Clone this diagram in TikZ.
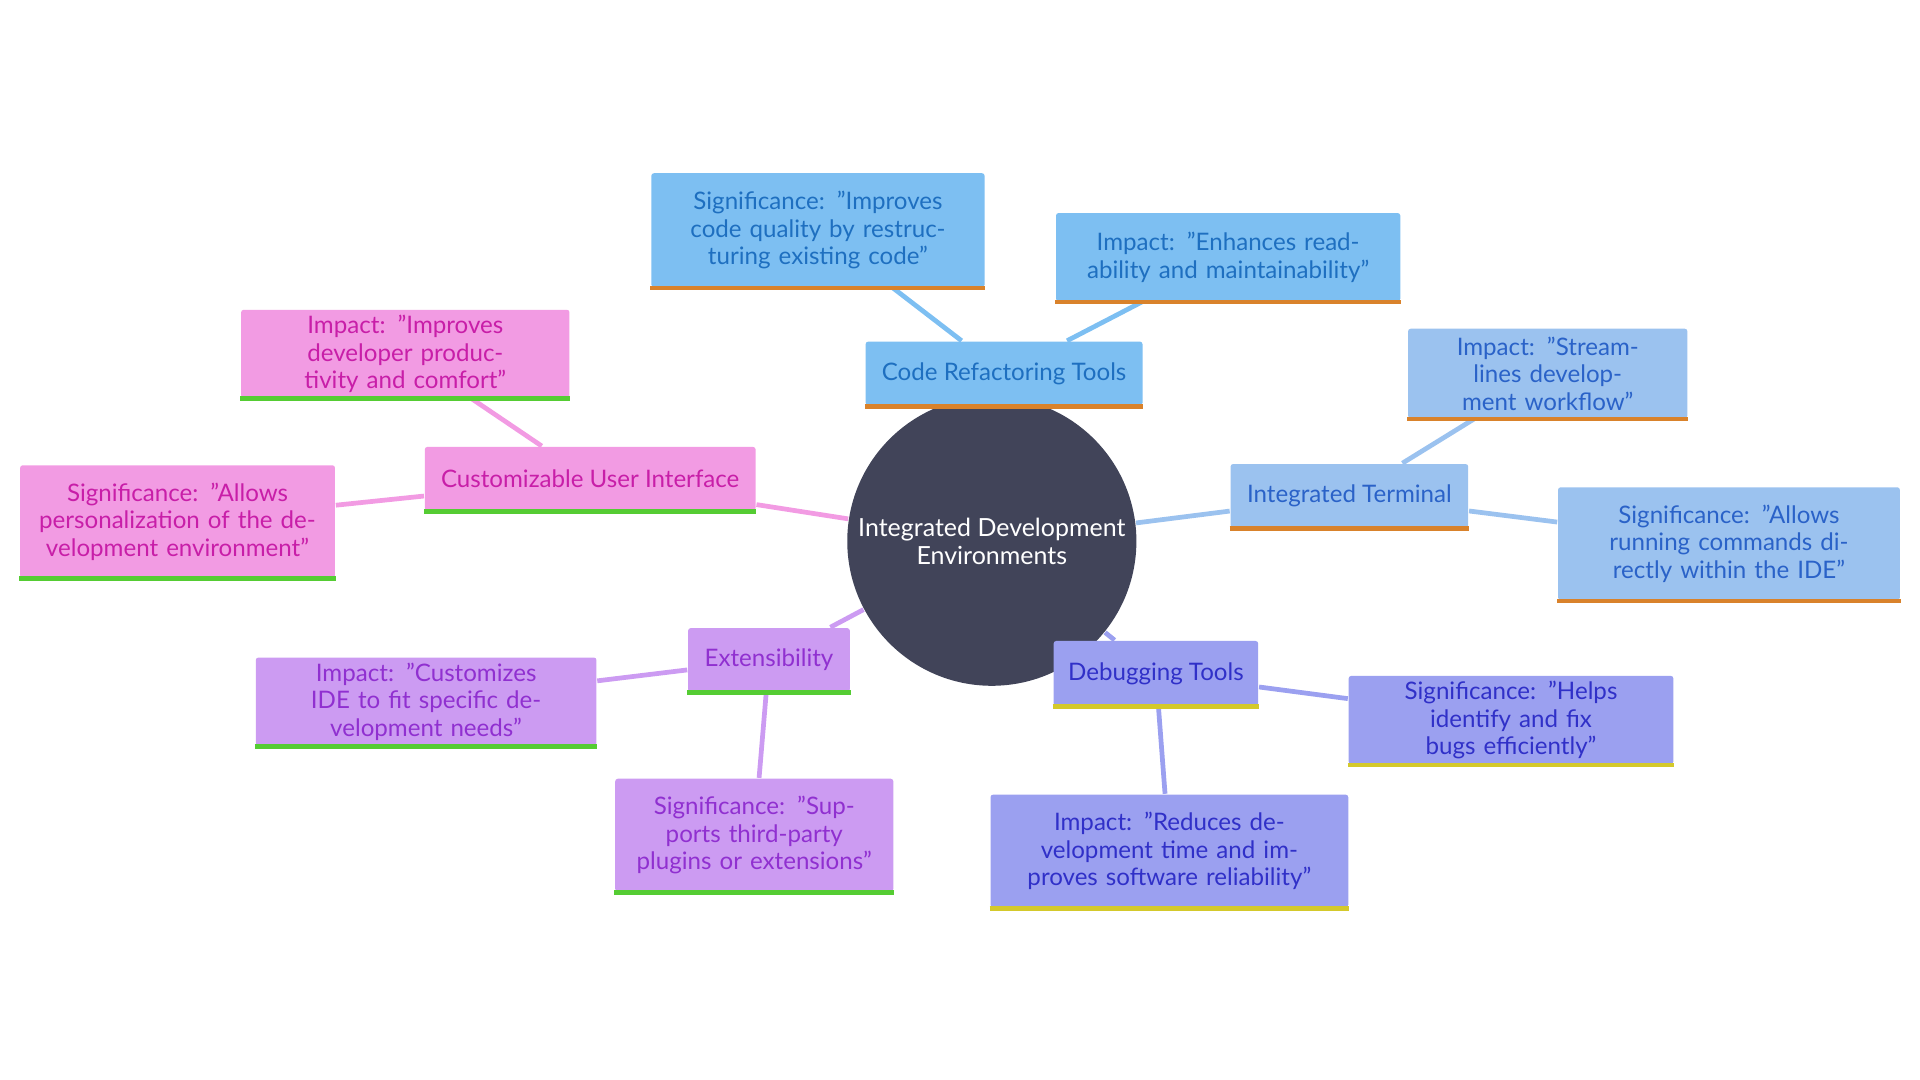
\documentclass[tikz,border=0pt]{standalone}
\usepackage{fontspec}
\setmainfont{Lato}
\usetikzlibrary{backgrounds}

\definecolor{hubfill}{HTML}{414459}
\definecolor{refill}{HTML}{7DBFF2}\definecolor{retext}{HTML}{1E6FC0}
\definecolor{tefill}{HTML}{9BC2EF}\definecolor{tetext}{HTML}{2A62C8}
\definecolor{defill}{HTML}{9BA0F0}\definecolor{detext}{HTML}{3030C8}
\definecolor{exfill}{HTML}{CC9BF2}\definecolor{extext}{HTML}{9030D0}
\definecolor{cufill}{HTML}{F29BE3}\definecolor{cutext}{HTML}{C81EA8}
\definecolor{orangebar}{HTML}{D9822B}
\definecolor{yellowbar}{HTML}{D4C92B}
\definecolor{greenbar}{HTML}{55CC33}

\tikzset{
  box/.style={rectangle, rounded corners=0.6pt, inner sep=0pt, align=center,
    font=\fontsize{5.6pt}{6.4pt}\selectfont},
  refbox/.style={box, fill=refill, text=retext},
  terbox/.style={box, fill=tefill, text=tetext},
  debbox/.style={box, fill=defill, text=detext},
  extbox/.style={box, fill=exfill, text=extext},
  cusbox/.style={box, fill=cufill, text=cutext},
  link/.style={line width=1.1pt},
  bar/.style={line width=1.1pt}
}

\begin{document}
\begin{tikzpicture}[x=0.01cm, y=-0.01cm]
		    \useasboundingbox (0,0) rectangle (1568,882);
		    \node (hub) at (810,442) [circle, fill=hubfill, text=white, minimum size=2.36cm, align=center, inner sep=0pt, font=\fontsize{5.8pt}{6.6pt}\selectfont] {Integrated Development\\Environments};

		    % code refactoring
		    \node (refactor) at (820,305) [refbox, minimum width=2.26cm, minimum height=0.52cm] {Code Refactoring Tools};
		    \node (refactorSig) at (668,188) [refbox, minimum width=2.72cm, minimum height=0.93cm, text width=2.5cm] {Significance: "Improves code quality by restructuring existing code"};
		    \node (refactorImp) at (1003,210) [refbox, minimum width=2.81cm, minimum height=0.72cm, text width=2.5cm] {Impact: "Enhances readability and maintainability"};

		    % terminal
		    \node (terminal) at (1102,405) [terbox, minimum width=1.94cm, minimum height=0.52cm] {Integrated Terminal};
		    \node (terminalImp) at (1264,305) [terbox, minimum width=2.28cm, minimum height=0.73cm, text width=2.05cm] {Impact: "Streamlines development workflow"};
		    \node (terminalSig) at (1412,444) [terbox, minimum width=2.79cm, minimum height=0.92cm, text width=2.55cm] {Significance: "Allows running commands directly within the IDE"};

		    % debugging
		    \node (debug) at (944,550) [debbox, minimum width=1.67cm, minimum height=0.53cm] {Debugging Tools};
		    \node (debugSig) at (1234,588) [debbox, minimum width=2.65cm, minimum height=0.72cm, text width=2.4cm] {Significance: "Helps identify and fix bugs efficiently"};
		    \node (debugImp) at (955,695) [debbox, minimum width=2.92cm, minimum height=0.92cm, text width=2.6cm] {Impact: "Reduces development time and improves software reliability"};

		    % extensibility
		    \node (ext) at (628,539) [extbox, minimum width=1.32cm, minimum height=0.52cm] {Extensibility};
		    \node (extImp) at (348,573) [extbox, minimum width=2.78cm, minimum height=0.72cm, text width=2.5cm] {Impact: "Customizes IDE to fit specific development needs"};
		    \node (extSig) at (616,682) [extbox, minimum width=2.27cm, minimum height=0.92cm, text width=2.0cm] {Significance: "Supports third-party plugins or extensions"};

		    % customizable UI
		    \node (custom) at (482,391) [cusbox, minimum width=2.70cm, minimum height=0.52cm] {Customizable User Interface};
		    \node (customImp) at (331,289) [cusbox, minimum width=2.68cm, minimum height=0.72cm, text width=2.4cm] {Impact: "Improves developer productivity and comfort"};
		    \node (customSig) at (145,426) [cusbox, minimum width=2.57cm, minimum height=0.92cm, text width=2.3cm] {Significance: "Allows personalization of the development environment"};

		    \foreach \n/\c in {refactor/orangebar, refactorSig/orangebar, refactorImp/orangebar,
		        terminal/orangebar, terminalImp/orangebar, terminalSig/orangebar,
		        debug/yellowbar, debugSig/yellowbar, debugImp/yellowbar,
		        ext/greenbar, extImp/greenbar, extSig/greenbar,
		        custom/greenbar, customImp/greenbar, customSig/greenbar}
		        \draw[bar, \c] (\n.south west) -- (\n.south east);

		    \begin{pgfonlayer}{background}
		    \draw[link, refill] (hub) -- (refactor);
		    \draw[link, refill] (refactor) -- (refactorSig);
		    \draw[link, refill] (refactor) -- (refactorImp);
		    \draw[link, tefill] (hub) -- (terminal);
		    \draw[link, tefill] (terminal) -- (terminalImp);
		    \draw[link, tefill] (terminal) -- (terminalSig);
		    \draw[link, defill] (hub) -- (debug);
		    \draw[link, defill] (debug) -- (debugSig);
		    \draw[link, defill] (debug) -- (debugImp);
		    \draw[link, exfill] (hub) -- (ext);
		    \draw[link, exfill] (ext) -- (extImp);
		    \draw[link, exfill] (ext) -- (extSig);
		    \draw[link, cufill] (hub) -- (custom);
		    \draw[link, cufill] (custom) -- (customImp);
		    \draw[link, cufill] (custom) -- (customSig);
		    \end{pgfonlayer}
		\end{tikzpicture}
\end{document}
